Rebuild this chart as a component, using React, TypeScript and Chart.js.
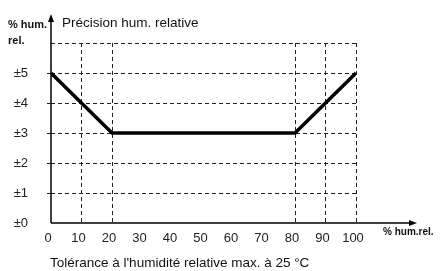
import React, { useEffect, useRef } from "react";
import { Chart, registerables } from "chart.js";

Chart.register(...registerables);

const humidity = [0, 20, 80, 100];
const tolerance = [5, 3, 3, 5];
const gridX = [10, 20, 80, 90, 100];
const yLabelPrefix = "±";
const yAxisTitle1 = "% hum.";
const yAxisTitle2 = "rel.";
const chartTitle = "Précision hum. relative";
const xAxisTitle = "% hum.rel.";
const bottomTitle = "Tolérance à l'humidité relative max. à 25 °C";

const FONT = "'Liberation Sans', Arial, sans-serif";

const decorPlugin = {
  id: "decor",
  afterDraw(chart: any) {
    const { ctx } = chart;
    const xs = chart.scales.x;
    const ys = chart.scales.y;
    const x0 = xs.getPixelForValue(0);
    const y0 = ys.getPixelForValue(0);
    ctx.save();
    ctx.strokeStyle = "#000";
    ctx.fillStyle = "#000";
    ctx.lineWidth = 1.5;
    ctx.beginPath();
    ctx.moveTo(x0, y0);
    ctx.lineTo(x0, 21);
    ctx.moveTo(x0, y0);
    ctx.lineTo(410, y0);
    ctx.stroke();
    // arrows
    ctx.beginPath();
    ctx.moveTo(x0, 14);
    ctx.lineTo(x0 - 3, 22);
    ctx.lineTo(x0 + 3, 22);
    ctx.closePath();
    ctx.fill();
    ctx.beginPath();
    ctx.moveTo(417, y0);
    ctx.lineTo(409, y0 - 3);
    ctx.lineTo(409, y0 + 3);
    ctx.closePath();
    ctx.fill();

    ctx.fillStyle = "#111";
    ctx.textBaseline = "middle";
    ctx.textAlign = "left";
    ctx.font = `bold 11px ${FONT}`;
    ctx.fillText(yAxisTitle1, 8, 25);
    ctx.fillText(yAxisTitle2, 8, 41);
    ctx.font = `13.5px ${FONT}`;
    ctx.fillText(chartTitle, 62, 23);
    ctx.font = `bold 10px ${FONT}`;
    ctx.fillText(xAxisTitle, 383, 232);
    ctx.font = `13.5px ${FONT}`;
    ctx.fillText(bottomTitle, 50, 263);
    ctx.restore();
  },
};

export default function App() {
  const ref = useRef<HTMLCanvasElement>(null);
  useEffect(() => {
    const chart = new Chart(ref.current!, {
      type: "line",
      data: {
        datasets: [
          {
            data: humidity.map((h, i) => ({ x: h, y: tolerance[i] })),
            borderColor: "#000",
            borderWidth: 3.5,
            pointRadius: 0,
            tension: 0,
            fill: false,
          },
        ],
      },
      options: {
        responsive: false,
        animation: false,
        events: [],
        layout: { padding: { top: 43, right: 85, left: 0, bottom: 0 } },
        plugins: { legend: { display: false }, tooltip: { enabled: false } },
        scales: {
          x: {
            type: "linear",
            min: 0,
            max: 100,
            afterFit: (s: any) => {
              s.height = 48;
            },
            ticks: {
              stepSize: 10,
              color: "#222",
              padding: 8,
              labelOffset: -3,
              font: { family: FONT, size: 13 },
              maxRotation: 0,
              autoSkip: false,
            },
            grid: {
              drawTicks: false,
              color: (c: any) =>
                c.tick && gridX.includes(c.tick.value) ? "#222" : "rgba(0,0,0,0)",
              lineWidth: 1,
            },
            border: { display: false, dash: [4, 3] },
          },
          y: {
            min: 0,
            max: 6,
            afterFit: (s: any) => {
              s.width = 51;
            },
            ticks: {
              stepSize: 1,
              color: "#222",
              padding: 19,
              font: { family: FONT, size: 13 },
              callback: (v: any) => (v === 6 ? "" : yLabelPrefix + v),
            },
            grid: {
              drawTicks: true,
              tickLength: 4,
              color: (c: any) =>
                c.tick && c.tick.value > 0 ? "#222" : "rgba(0,0,0,0)",
              tickColor: (c: any) =>
                c.tick && c.tick.value > 0 && c.tick.value < 6 ? "#222" : "rgba(0,0,0,0)",
              lineWidth: 1,
            },
            border: { display: false, dash: [4, 3] },
          },
        },
      },
      plugins: [decorPlugin],
    } as any);
    return () => chart.destroy();
  }, []);
  return (
    <div style={{ position: "fixed", left: 0, top: 0, width: 441, height: 271, background: "#fff" }}>
      <canvas ref={ref} width={441} height={271} />
    </div>
  );
}
